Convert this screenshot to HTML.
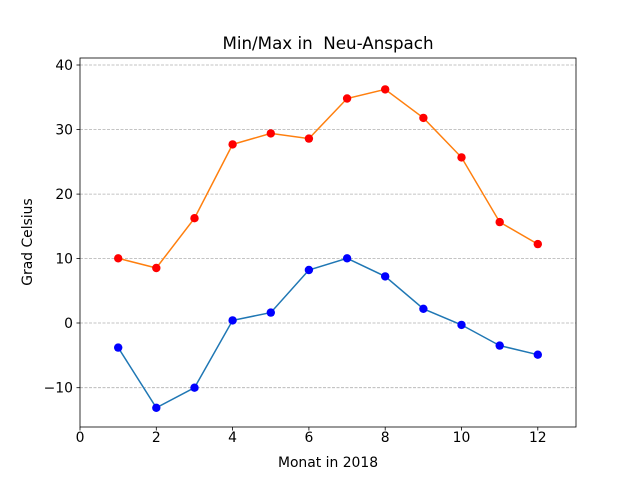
<!DOCTYPE html><html><head><style>body{margin:0;background:#fff}svg text{font-family:"DejaVu Sans","Liberation Sans",sans-serif;fill:#000}</style></head><body>
<svg width="640" height="480" viewBox="0 0 640 480" xmlns="http://www.w3.org/2000/svg">
<rect width="640" height="480" fill="#fff"/>
<g stroke="#b0b0b0" stroke-dasharray="3,1.5" stroke-width="0.8">
<line x1="80" x2="576" y1="65" y2="65"/><line x1="80" x2="576" y1="129.4" y2="129.4"/><line x1="80" x2="576" y1="194.1" y2="194.1"/><line x1="80" x2="576" y1="258.6" y2="258.6"/><line x1="80" x2="576" y1="323" y2="323"/><line x1="80" x2="576" y1="387.7" y2="387.7"/>
</g>
<polyline fill="none" stroke="#ff7f0e" stroke-width="1.5" points="118.2,258.3 156.3,268 194.5,218.2 232.6,144.4 270.8,133.4 308.9,138.6 347.1,98.5 385.2,89.4 423.4,117.9 461.5,157.4 499.7,222.1 537.8,244.1"/>
<polyline fill="none" stroke="#1f77b4" stroke-width="1.5" points="118.2,347.6 156.3,407.8 194.5,387.7 232.6,320.4 270.8,312.6 308.9,270 347.1,258.3 385.2,276.4 423.4,308.8 461.5,324.9 499.7,345.6 537.8,354.7"/>
<g fill="red"><circle cx="118.2" cy="258.3" r="4.2"/><circle cx="156.3" cy="268" r="4.2"/><circle cx="194.5" cy="218.2" r="4.2"/><circle cx="232.6" cy="144.4" r="4.2"/><circle cx="270.8" cy="133.4" r="4.2"/><circle cx="308.9" cy="138.6" r="4.2"/><circle cx="347.1" cy="98.5" r="4.2"/><circle cx="385.2" cy="89.4" r="4.2"/><circle cx="423.4" cy="117.9" r="4.2"/><circle cx="461.5" cy="157.4" r="4.2"/><circle cx="499.7" cy="222.1" r="4.2"/><circle cx="537.8" cy="244.1" r="4.2"/></g>
<g fill="blue"><circle cx="118.2" cy="347.6" r="4.2"/><circle cx="156.3" cy="407.8" r="4.2"/><circle cx="194.5" cy="387.7" r="4.2"/><circle cx="232.6" cy="320.4" r="4.2"/><circle cx="270.8" cy="312.6" r="4.2"/><circle cx="308.9" cy="270" r="4.2"/><circle cx="347.1" cy="258.3" r="4.2"/><circle cx="385.2" cy="276.4" r="4.2"/><circle cx="423.4" cy="308.8" r="4.2"/><circle cx="461.5" cy="324.9" r="4.2"/><circle cx="499.7" cy="345.6" r="4.2"/><circle cx="537.8" cy="354.7" r="4.2"/></g>
<rect x="80" y="58" width="496" height="369" fill="none" stroke="#000" stroke-width="0.8"/>
<g stroke="#000" stroke-width="0.8">
<line x1="80" x2="80" y1="427" y2="430.5"/><line x1="156.3" x2="156.3" y1="427" y2="430.5"/><line x1="232.6" x2="232.6" y1="427" y2="430.5"/><line x1="308.9" x2="308.9" y1="427" y2="430.5"/><line x1="385.2" x2="385.2" y1="427" y2="430.5"/><line x1="461.5" x2="461.5" y1="427" y2="430.5"/><line x1="537.8" x2="537.8" y1="427" y2="430.5"/>
<line x1="76.5" x2="80" y1="65" y2="65"/><line x1="76.5" x2="80" y1="129.4" y2="129.4"/><line x1="76.5" x2="80" y1="194.1" y2="194.1"/><line x1="76.5" x2="80" y1="258.6" y2="258.6"/><line x1="76.5" x2="80" y1="323" y2="323"/><line x1="76.5" x2="80" y1="387.7" y2="387.7"/>
</g>
<g font-size="13.9" text-anchor="middle">
<text x="80" y="442">0</text><text x="156.3" y="442">2</text><text x="232.6" y="442">4</text><text x="308.9" y="442">6</text><text x="385.2" y="442">8</text><text x="461.5" y="442">10</text><text x="537.8" y="442">12</text>
</g>
<g font-size="13.9" text-anchor="end">
<text x="73" y="70">40</text><text x="73" y="134.4">30</text><text x="73" y="199.1">20</text><text x="73" y="263.6">10</text><text x="73" y="328">0</text><text x="73" y="392.7">−10</text>
</g>
<text x="328" y="467" font-size="13.9" text-anchor="middle">Monat in 2018</text>
<text transform="translate(32,242) rotate(-90)" font-size="13.9" text-anchor="middle">Grad Celsius</text>
<text x="328" y="49" font-size="16.7" text-anchor="middle" xml:space="preserve">Min/Max in  Neu-Anspach</text>
</svg></body></html>
